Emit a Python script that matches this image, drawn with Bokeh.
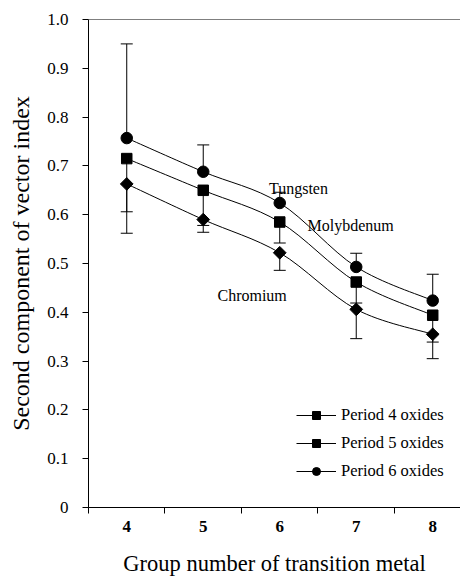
import numpy as np
from bokeh.plotting import figure
from bokeh.models import (FixedTicker, CustomJSTickFormatter, Span, Legend, LegendItem,
                          ColumnDataSource)
from bokeh.core.properties import value
from bokeh.embed import file_html
from bokeh.resources import INLINE

# ---- data ----
groups = [4, 5, 6, 7, 8]
period4 = [0.663, 0.590, 0.522, 0.406, 0.355]
period5 = [0.715, 0.650, 0.585, 0.462, 0.394]
period6 = [0.757, 0.688, 0.624, 0.493, 0.424]
err6_upper = [0.193, 0.055, 0.022, 0.028, 0.054]
err5_lower = [0.109, 0.072, 0.043, 0.043, 0.055]
err4_lower = [0.101, 0.026, 0.036, 0.060, 0.050]
y_ticks = [0.0, 0.1, 0.2, 0.3, 0.4, 0.5, 0.6, 0.7, 0.8, 0.9, 1.0]
series_names = ["Period 4 oxides", "Period 5 oxides", "Period 6 oxides"]
note_text = ["Tungsten", "Molybdenum", "Chromium"]
note_x = [6.245, 6.363, 5.186]
note_y = [0.654, 0.578, 0.434]
note_align = ["center", "left", "left"]

FONT = "Liberation Serif"

p = figure(width=460, height=581, output_backend="svg", toolbar_location=None,
           x_range=(3.5, 8.363), y_range=(0, 1.0),
           min_border_left=88, min_border_right=0, min_border_top=19, min_border_bottom=74)
p.grid.visible = False
p.outline_line_color = None
p.background_fill_color = "white"

# axes
xa = p.xaxis[0]
xa.ticker = FixedTicker(ticks=groups, minor_ticks=[g - 0.5 for g in groups])
xa.major_tick_line_color = None
xa.major_tick_out = 0
xa.major_tick_in = 0
xa.minor_tick_out = 6
xa.minor_tick_in = 0
xa.minor_tick_line_color = "black"
xa.axis_line_color = "black"
xa.major_label_text_font = FONT
xa.major_label_text_font_style = "bold"
xa.major_label_text_font_size = "17px"
xa.major_label_text_color = "black"
xa.major_label_standoff = 7
xa.axis_label = "Group number of transition metal"
xa.axis_label_text_font = FONT
xa.axis_label_text_font_style = "normal"
xa.axis_label_text_font_size = "22.5px"
xa.axis_label_text_color = "black"
xa.axis_label_standoff = 16

ya = p.yaxis[0]
ya.ticker = FixedTicker(ticks=y_ticks, minor_ticks=[])
ya.formatter = CustomJSTickFormatter(code="return tick == 0 ? '0' : tick.toFixed(1);")
ya.major_tick_out = 6
ya.major_tick_in = 0
ya.major_tick_line_color = "black"
ya.axis_line_color = "black"
ya.major_label_text_font = FONT
ya.major_label_text_font_size = "17px"
ya.major_label_text_color = "black"
ya.major_label_standoff = 14
ya.axis_label = "Second component of vector index"
ya.axis_label_text_font = FONT
ya.axis_label_text_font_style = "normal"
ya.axis_label_text_font_size = "24px"
ya.axis_label_text_color = "black"
ya.axis_label_standoff = 10

p.add_layout(Span(location=1.0, dimension="width", line_color="black", line_width=1))

gx = np.array(groups, dtype=float)

# error bars
def error_bars(ys, err, up):
    ys = np.array(ys)
    err = np.array(err)
    end = ys + err if up else ys - err
    p.segment(x0=gx, y0=ys, x1=gx, y1=end, line_color="black", line_width=1)
    p.scatter(x=gx, y=end, marker="dash", size=12, line_color="black", line_width=1)

error_bars(period6, err6_upper, True)
error_bars(period5, err5_lower, False)
error_bars(period4, err4_lower, False)

# smoothed lines (Bezier through the data points)
def smooth(ys):
    ys = np.array(ys, dtype=float)
    n = len(gx)
    x0, y0, x1, y1, cx0, cy0, cx1, cy1 = [], [], [], [], [], [], [], []
    for i in range(n - 1):
        a = max(i - 1, 0)
        d = min(i + 2, n - 1)
        x0.append(gx[i]); y0.append(ys[i])
        x1.append(gx[i + 1]); y1.append(ys[i + 1])
        cx0.append(gx[i] + (gx[i + 1] - gx[a]) / 6)
        cy0.append(ys[i] + (ys[i + 1] - ys[a]) / 6)
        cx1.append(gx[i + 1] - (gx[d] - gx[i]) / 6)
        cy1.append(ys[i + 1] - (ys[d] - ys[i]) / 6)
    p.bezier(x0=x0, y0=y0, x1=x1, y1=y1, cx0=cx0, cy0=cy0, cx1=cx1, cy1=cy1,
             line_color="black", line_width=1)

for s in (period4, period5, period6):
    smooth(s)

# markers
m4 = p.scatter(x=gx, y=period4, marker="square", angle=np.pi / 4, size=9,
               fill_color="black", line_color="black")
m5 = p.scatter(x=gx, y=period5, marker="square", size=10.5,
               fill_color="black", line_color="black")
m6 = p.scatter(x=gx, y=period6, marker="circle", size=11.5,
               fill_color="black", line_color="black")

# legend line proxies (no visible data)
items = []
for name, m in zip(series_names, (m4, m5, m6)):
    ln = p.line(x=[np.nan], y=[np.nan], line_color="black", line_width=1)
    items.append(LegendItem(label=name, renderers=[ln, m]))

legend = Legend(items=items, location=(208, 26), border_line_color=None,
                background_fill_alpha=0, padding=0, margin=0, spacing=8,
                glyph_width=40, glyph_height=20, label_height=20, label_standoff=5,
                label_text_font=FONT, label_text_font_size="16.5px",
                label_text_color="black")
p.add_layout(legend)

# annotations
src = ColumnDataSource(dict(x=note_x, y=note_y, t=note_text, a=note_align))
p.text(x="x", y="y", text="t", text_align="a", text_baseline="alphabetic",
       text_font=value(FONT), text_font_size="16px", text_color="black", source=src)

open("out.html", "w").write(file_html(p, INLINE))
